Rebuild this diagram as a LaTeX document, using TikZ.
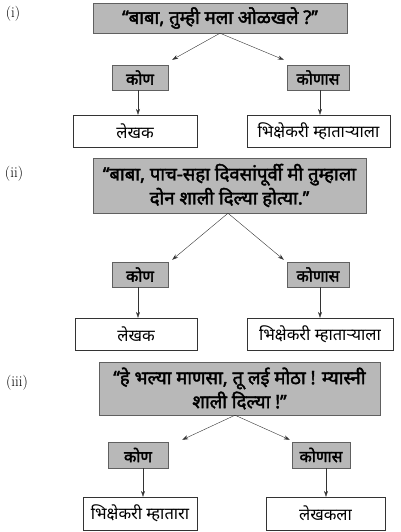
\documentclass[tikz,border=0pt]{standalone}
\usepackage{fontspec}
\usetikzlibrary{arrows.meta}
\newfontfamily\deva[Script=Devanagari]{Noto Sans}
\newfontfamily\devab[Script=Devanagari, AutoFakeBold=2.2]{Noto Sans}
\definecolor{boxgray}{HTML}{B8B8B8}
\definecolor{linegray}{HTML}{606060}
\begin{document}
\begin{tikzpicture}[x=1pt, y=-1pt,
        tag/.style={font=\fontsize{15}{17}\selectfont},
        quote/.style={draw=linegray, fill=boxgray, align=center, inner sep=0pt, font=\devab\bfseries\fontsize{18.5}{24}\selectfont},
        ask/.style={draw=linegray, fill=boxgray, inner sep=0pt, font=\devab\bfseries\fontsize{16}{18}\selectfont},
        ans/.style={draw=black!80, fill=white, inner sep=0pt, font=\deva\fontsize{16.5}{18}\selectfont},
        arr/.style={-{Stealth[length=6pt, width=4pt]}, black!80}]
            \useasboundingbox (0,0) rectangle (401,532);

            % (i)
            \node[tag] (lbl1) at (13,14) {(i)};
            \node[quote, minimum width=254pt, minimum height=30pt] (q1) at (220,18) {‘‘बाबा, तुम्ही मला ओळखले ?’’};
            \node[ask, minimum width=56pt, minimum height=25pt] (who1) at (140,77.5) {कोण};
            \node[ask, minimum width=62pt, minimum height=25pt] (whom1) at (318,77.5) {कोणास};
            \node[ans, minimum width=124pt, minimum height=32pt] (ans1a) at (135,131) {लेखक};
            \node[ans, minimum width=143pt, minimum height=32pt] (ans1b) at (318.5,131) {भिक्षेकरी म्हाताऱ्याला};

            \draw[arr] (q1.south) -- ([shift={(4,-5)}]who1.north east);
            \draw[arr] (q1.south) -- ([shift={(-3,-5)}]whom1.north west);
            \draw[arr] ([xshift=-2pt]who1.south) -- ([xshift=-2pt]who1.south |- ans1a.north);
            \draw[arr] ([xshift=2pt]whom1.south) -- ([xshift=2pt]whom1.south |- ans1b.north);

            % (ii)
            \node[tag] (lbl2) at (14,174) {(ii)};
            \node[quote, minimum width=273pt, minimum height=55pt] (q2) at (229.5,185.5) {‘‘बाबा, पाच-सहा दिवसांपूर्वी मी तुम्हाला\\दोन शाली दिल्या होत्या.’’};
            \node[ask, minimum width=56pt, minimum height=25pt] (who2) at (140,274.5) {कोण};
            \node[ask, minimum width=62pt, minimum height=25pt] (whom2) at (318,274.5) {कोणास};
            \node[ans, minimum width=122pt, minimum height=32pt] (ans2a) at (136,334) {लेखक};
            \node[ans, minimum width=146pt, minimum height=32pt] (ans2b) at (320,334) {भिक्षेकरी म्हाताऱ्याला};

            \draw[arr] ([xshift=-1.5pt]q2.south) -- ([shift={(4,-2)}]who2.north east);
            \draw[arr] ([xshift=-1.5pt]q2.south) -- ([shift={(-3,-2)}]whom2.north west);
            \draw[arr] ([xshift=-2pt]who2.south) -- ([xshift=-2pt]who2.south |- ans2a.north);
            \draw[arr] ([xshift=2pt]whom2.south) -- ([xshift=2pt]whom2.south |- ans2b.north);

            % (iii)
            \node[tag] (lbl3) at (17,383) {(iii)};
            \node[quote, minimum width=281pt, minimum height=53pt] (q3) at (239.5,388.5) {‘‘हे भल्या माणसा, तू लई मोठा ! म्यास्नी\\शाली दिल्या !’’};
            \node[ask, minimum width=60pt, minimum height=26pt] (who3) at (138,455) {कोण};
            \node[ask, minimum width=58pt, minimum height=26pt] (whom3) at (321,455) {कोणास};
            \node[ans, minimum width=114pt, minimum height=33pt] (ans3a) at (140,513.5) {भिक्षेकरी म्हातारा};
            \node[ans, minimum width=119pt, minimum height=33pt] (ans3b) at (325.5,513.5) {लेखकला};

            \draw[arr] ([xshift=-4.5pt]q3.south) -- ([shift={(14,-2)}]who3.north east);
            \draw[arr] ([xshift=-4.5pt]q3.south) -- ([shift={(-2,-2)}]whom3.north west);
            \draw[arr] ([xshift=5pt]who3.south) -- ([xshift=5pt]who3.south |- ans3a.north);
            \draw[arr] ([xshift=5pt]whom3.south) -- ([xshift=5pt]whom3.south |- ans3b.north);
\end{tikzpicture}
\end{document}
